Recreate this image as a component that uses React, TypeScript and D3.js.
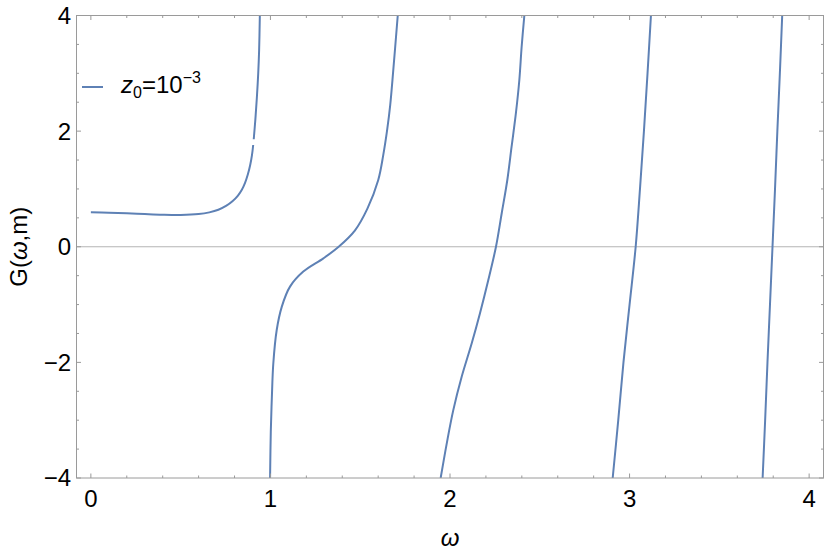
import React from "react";
import * as d3 from "d3";

// ---- data ----
const branch1a: [number, number][] = [
  [0, 0.595], [0.1, 0.59], [0.2, 0.58], [0.3, 0.566], [0.4, 0.554], [0.5, 0.55],
  [0.6, 0.565], [0.66, 0.595], [0.71, 0.64], [0.755, 0.71], [0.79, 0.79], [0.818, 0.88],
  [0.84, 0.98], [0.858, 1.1], [0.874, 1.25], [0.887, 1.41], [0.897, 1.58], [0.904, 1.76],
];
const branch1b: [number, number][] = [
  [0.907, 1.86], [0.916, 2.2], [0.924, 2.56], [0.932, 3.0], [0.937, 3.4], [0.941, 4.0],
];
const branch2: [number, number][] = [
  [0.998, -4], [1.002, -3.2], [1.008, -2.6], [1.016, -2.02], [1.035, -1.44], [1.063, -1.04],
  [1.109, -0.69], [1.183, -0.43], [1.295, -0.2], [1.38, 0], [1.47, 0.28], [1.54, 0.66],
  [1.6, 1.15], [1.628, 1.58], [1.65, 2.02], [1.667, 2.45], [1.684, 3.05], [1.709, 4.0],
];
const branch3: [number, number][] = [
  [1.948, -4], [1.982, -3.4], [2.018, -2.83], [2.065, -2.25], [2.121, -1.67], [2.167, -1.15],
  [2.213, -0.58], [2.256, 0], [2.288, 0.58], [2.319, 1.15], [2.343, 1.73], [2.367, 2.31],
  [2.386, 2.88], [2.399, 3.46], [2.414, 4.0],
];
const branch4: [number, number][] = [
  [2.906, -4], [2.937, -3], [2.966, -2], [3.0, -1], [3.034, 0], [3.058, 1], [3.08, 2],
  [3.1, 3], [3.119, 4],
];
const branch5: [number, number][] = [
  [3.741, -4], [3.755, -3], [3.768, -2], [3.782, -1], [3.796, 0], [3.81, 1], [3.823, 2],
  [3.837, 3], [3.85, 4],
];
const branches = [branch1a, branch1b, branch2, branch3, branch4, branch5];

const xMajorTicks = [0, 1, 2, 3, 4];
const yMajorTicks = [-4, -2, 0, 2, 4];
const xTickLabels = ["0", "1", "2", "3", "4"];
const yTickLabels = ["\u22124", "\u22122", "0", "2", "4"];

const W = 830, H = 554;
const L = 76.5, R = 823.5, T = 15.5, B = 478;
const FONT = "'Liberation Sans', Arial, sans-serif";
const LINE = "#5E81B5";
const FRAME = "#9a9a9a";

export default function App() {
  const x = d3.scaleLinear().domain([-0.08, 4.08]).range([L, R]);
  const y = d3.scaleLinear().domain([-4, 4]).range([B, T]);
  const line = d3
    .line<[number, number]>()
    .x((d) => x(d[0]))
    .y((d) => y(d[1]))
    .curve(d3.curveCatmullRom.alpha(0.5));

  const xMinor = d3.range(0, 4.0001, 0.2).filter((v) => Math.abs(v - Math.round(v)) > 1e-6);
  const yMinor = d3.range(-4, 4.0001, 0.5).filter((v) => Math.abs(v / 2 - Math.round(v / 2)) > 1e-6);
  const maj = 4.5, mn = 2.5;

  return (
    <div style={{ position: "fixed", left: 0, top: 0 }}>
      <svg width={W} height={H} style={{ display: "block", background: "#fff" }}>
        <defs>
          <clipPath id="plotclip">
            <rect x={L} y={T} width={R - L} height={B - T} />
          </clipPath>
        </defs>
        {/* zero axis */}
        <line x1={L} x2={R} y1={y(0)} y2={y(0)} stroke="#b4b4b4" strokeWidth={1} />
        {/* curves */}
        <g clipPath="url(#plotclip)">
          {branches.map((b, i) => (
            <path key={i} d={line(b) || ""} fill="none" stroke={LINE} strokeWidth={2} />
          ))}
        </g>
        {/* frame */}
        <rect x={L} y={T} width={R - L} height={B - T} fill="none" stroke={FRAME} strokeWidth={1} />
        {/* x ticks bottom & top */}
        {xMajorTicks.map((v) => (
          <g key={"xm" + v}>
            <line x1={x(v)} x2={x(v)} y1={B} y2={B - maj} stroke={FRAME} />
            <line x1={x(v)} x2={x(v)} y1={T} y2={T + maj} stroke={FRAME} />
          </g>
        ))}
        {xMinor.map((v, i) => (
          <g key={"xn" + i}>
            <line x1={x(v)} x2={x(v)} y1={B} y2={B - mn} stroke={FRAME} />
            <line x1={x(v)} x2={x(v)} y1={T} y2={T + mn} stroke={FRAME} />
          </g>
        ))}
        {/* y ticks left & right */}
        {yMajorTicks.map((v) => (
          <g key={"ym" + v}>
            <line x1={L} x2={L + maj} y1={y(v)} y2={y(v)} stroke={FRAME} />
            <line x1={R} x2={R - maj} y1={y(v)} y2={y(v)} stroke={FRAME} />
          </g>
        ))}
        {yMinor.map((v, i) => (
          <g key={"yn" + i}>
            <line x1={L} x2={L + mn} y1={y(v)} y2={y(v)} stroke={FRAME} />
            <line x1={R} x2={R - mn} y1={y(v)} y2={y(v)} stroke={FRAME} />
          </g>
        ))}
        {/* tick labels */}
        {xMajorTicks.map((v, i) => (
          <text key={"xl" + v} x={x(v)} y={507} textAnchor="middle" fontFamily={FONT} fontSize={24} fill="#000">
            {xTickLabels[i]}
          </text>
        ))}
        {yMajorTicks.map((v, i) => (
          <text key={"yl" + v} x={71} y={y(v)} dy="0.35em" textAnchor="end" fontFamily={FONT} fontSize={24} fill="#000">
            {yTickLabels[i]}
          </text>
        ))}
        {/* axis labels */}
        <text x={x(2)} y={546} textAnchor="middle" fontFamily={FONT} fontSize={24} fontStyle="italic" fill="#000">
          ω
        </text>
        <text
          transform={`translate(27,${y(0)}) rotate(-90)`}
          textAnchor="middle"
          fontFamily={FONT}
          fontSize={24}
          fill="#000"
        >
          G(<tspan fontStyle="italic">ω</tspan>,m)
        </text>
        {/* legend */}
        <line x1={82} x2={103} y1={87} y2={87} stroke={LINE} strokeWidth={2} />
        <text x={121} y={93} fontFamily={FONT} fontSize={24} fill="#000">
          <tspan fontStyle="italic">z</tspan>
          <tspan fontSize={16} dy={5}>0</tspan>
          <tspan dy={-5}>=10</tspan>
          <tspan fontSize={16} dy={-10}>−3</tspan>
        </text>
      </svg>
    </div>
  );
}
